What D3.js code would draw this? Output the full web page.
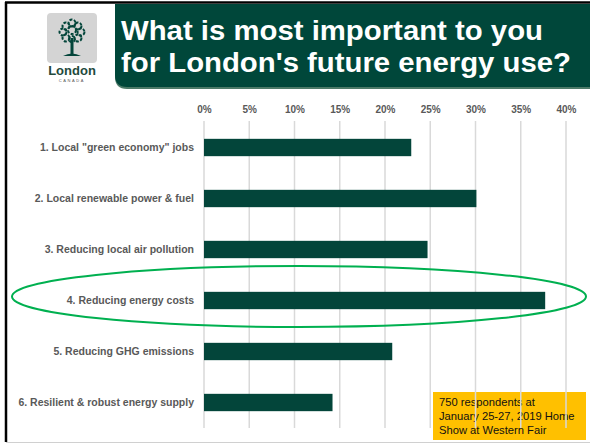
<!DOCTYPE html>
<html>
<head>
<meta charset="utf-8">
<script src="https://cdnjs.cloudflare.com/ajax/libs/d3/7.8.5/d3.min.js"></script>
<style>
  body { margin: 0; background: #fff; }
  svg { display: block; font-family: "Liberation Sans", Arial, sans-serif; }
</style>
</head>
<body>
<div id="chart"></div>
<script>
'use strict';

// survey data
var categories = [
  '1. Local "green economy" jobs',
  '2. Local renewable power & fuel',
  '3. Reducing local air pollution',
  '4. Reducing energy costs',
  '5. Reducing GHG emissions',
  '6. Resilient & robust energy supply'
];
var shares = [22.9, 30.1, 24.7, 37.7, 20.8, 14.2];
var tickValues = [0, 5, 10, 15, 20, 25, 30, 35, 40];
var highlighted = '4. Reducing energy costs';
var titleLines = ['What is most important to you', "for London's future energy use?"];
var noteLines = ['750 respondents at', 'January 25-27, 2019 Home', 'Show at Western Fair'];

var width = 590;
var height = 444;
var green = '#03453a';

var svg = d3.select('#chart')
  .append('svg')
  .attr('width', width)
  .attr('height', height);

// slide frame
svg.append('rect').attr('x', 0).attr('y', 0).attr('width', width).attr('height', height).style('fill', '#fff');
svg.append('line').attr('x1', 6).attr('x2', 6).attr('y1', 2).attr('y2', 442)
  .style('stroke', '#000').style('stroke-width', 2.5);
svg.append('line').attr('x1', 5).attr('x2', width).attr('y1', 2.5).attr('y2', 2.5)
  .style('stroke', '#000').style('stroke-width', 2.5);
svg.append('line').attr('x1', 6).attr('x2', width).attr('y1', 442.5).attr('y2', 442.5)
  .style('stroke', '#d0d0d0').style('stroke-width', 1);

// title banner
svg.append('path')
  .attr('d', 'M115,4 H590 V89 H127 Q115,89 115,77 Z')
  .style('fill', '#4c7a68');
svg.append('path')
  .attr('d', 'M115,4 H590 V87 H127 Q115,87 115,75 Z')
  .style('fill', '#00473a');

var titleEnds = [543, 571];
svg.selectAll('.title')
  .data(titleLines)
  .enter()
  .append('text')
  .attr('class', 'title')
  .attr('x', 121)
  .attr('y', function(d, i) { return 39.5 + i * 32.5; })
  .attr('textLength', function(d, i) { return titleEnds[i] - 121; })
  .attr('lengthAdjust', 'spacingAndGlyphs')
  .text(function(d) { return d; })
  .style('font-size', '27px')
  .style('font-weight', 'bold')
  .style('fill', '#fff');

// logo
var logo = svg.append('g');
logo.append('rect').attr('x', 47).attr('y', 13).attr('width', 50).attr('height', 50).attr('rx', 4)
  .style('fill', '#d4d4d4');
logo.append('rect').attr('x', 70.5).attr('y', 38).attr('width', 3).attr('height', 17).style('fill', green);
logo.append('path').attr('d', 'M63,56 Q72,51 81,56 Z').style('fill', green);
var leaves = [[72, 23, 3.5], [66, 26, 3.5], [78, 26, 3.5], [63, 32, 3.5], [72, 30, 4], [81, 32, 3.5], [66, 38, 3.5], [78, 38, 3.5], [72, 39, 3]];
logo.selectAll('.leaf')
  .data(leaves)
  .enter()
  .append('circle')
  .attr('class', 'leaf')
  .attr('cx', function(d) { return d[0]; })
  .attr('cy', function(d) { return d[1]; })
  .attr('r', function(d) { return d[2]; })
  .style('fill', 'none')
  .style('stroke', green)
  .style('stroke-width', 2)
  .style('stroke-dasharray', '3,1.5');
logo.append('text').attr('x', 72).attr('y', 75).attr('text-anchor', 'middle')
  .text('London').style('font-size', '13px').style('font-weight', 'bold').style('fill', '#234a3c');
logo.append('text').attr('x', 72).attr('y', 82).attr('text-anchor', 'middle')
  .text('CANADA').style('font-size', '4px').style('letter-spacing', '1.6px').style('fill', '#555');

// note box (grid lines are drawn on top of it, as in the slide)
var note = svg.append('g');
note.append('rect').attr('x', 433).attr('y', 392).attr('width', 153).attr('height', 48).style('fill', '#ffc000');
note.selectAll('text')
  .data(noteLines)
  .enter()
  .append('text')
  .attr('x', 439)
  .attr('y', function(d, i) { return 406 + i * 13.8; })
  .text(function(d) { return d; })
  .style('font-size', '11.2px')
  .style('fill', '#111');

// scales
var x = d3.scaleLinear().domain([0, 40]).range([204, 566]);
var y = d3.scaleBand().domain(categories).range([122, 428]).paddingInner(0.66).paddingOuter(0.33);

// grid lines
svg.selectAll('.grid')
  .data(tickValues)
  .enter()
  .append('line')
  .attr('class', 'grid')
  .attr('x1', function(d) { return x(d); })
  .attr('x2', function(d) { return x(d); })
  .attr('y1', 121)
  .attr('y2', 428)
  .style('stroke', '#d9d9d9')
  .style('stroke-width', 1.5);

// top axis labels
var axis = svg.append('g')
  .attr('transform', 'translate(0,117)')
  .call(d3.axisTop(x).tickValues(tickValues).tickSize(0).tickPadding(4)
    .tickFormat(function(d) { return d + '%'; }));
axis.select('.domain').remove();
axis.selectAll('text')
  .style('font-family', '"Liberation Sans", Arial, sans-serif')
  .style('font-size', '10px')
  .style('font-weight', 'bold')
  .style('fill', '#595959');

// bars
svg.selectAll('.bar')
  .data(shares)
  .enter()
  .append('rect')
  .attr('class', 'bar')
  .attr('x', x(0))
  .attr('y', function(d, i) { return y(categories[i]); })
  .attr('width', function(d) { return x(d) - x(0); })
  .attr('height', y.bandwidth())
  .style('fill', green);

// category labels
svg.selectAll('.label')
  .data(categories)
  .enter()
  .append('text')
  .attr('class', 'label')
  .attr('x', 194)
  .attr('y', function(d) { return y(d) + y.bandwidth() / 2; })
  .attr('dy', '0.35em')
  .attr('text-anchor', 'end')
  .text(function(d) { return d; })
  .style('font-size', '10.5px')
  .style('font-weight', 'bold')
  .style('fill', '#595959');

// highlight ellipse round the top answer
svg.append('ellipse')
  .attr('cx', 299)
  .attr('cy', y(highlighted) + y.bandwidth() / 2 - 4)
  .attr('rx', 287)
  .attr('ry', 30.5)
  .style('fill', 'none')
  .style('stroke', '#00b050')
  .style('stroke-width', 2);
</script>
</body>
</html>
